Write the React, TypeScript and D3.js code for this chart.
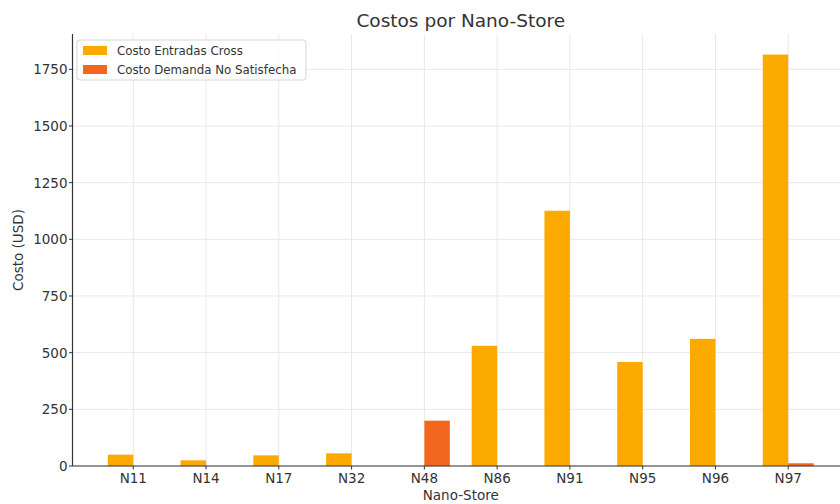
import React from "react";
import * as d3 from "d3";

// Nano-store codes along the x axis
const stores: string[] = ["N11", "N14", "N17", "N32", "N48", "N86", "N91", "N95", "N96", "N97"];
// Cross-dock entry cost per store (USD)
const crossCost: number[] = [50, 25, 47, 56, 0, 530, 1126, 459, 561, 1815];
// Unmet-demand cost per store (USD)
const unmetCost: number[] = [0, 0, 0, 0, 200, 0, 0, 0, 0, 12];
// Y axis ticks
const yTicks: number[] = [0, 250, 500, 750, 1000, 1250, 1500, 1750];

const seriesNames = ["Costo Entradas Cross", "Costo Demanda No Satisfecha"];
const seriesColors = ["#FDAA00", "#F2661F"];

const W = 840;
const H = 504;
const FONT = "'DejaVu Sans', sans-serif";

export default function App() {
  const left = 72.5;
  const right = 849;
  const top = 34;
  const bottom = 466;
  const barW = 0.35;

  const x = d3.scaleLinear().domain([-0.835, 9.835]).range([left, right]);
  const yMax = d3.max([...crossCost, ...unmetCost]) as number;
  const y = d3.scaleLinear().domain([0, yMax * 1.05]).range([bottom, top]);

  const series = [crossCost, unmetCost];

  return (
    <svg
      width={W}
      height={H}
      style={{ position: "absolute", left: 0, top: 0, background: "#fff" }}
      fontFamily={FONT}
    >
      <rect width={W} height={H} fill="#fff" />
      {/* grid */}
      <g stroke="#e8e8e8" strokeWidth={1}>
        {yTicks.map((t) => (
          <line key={"gy" + t} x1={left} x2={right} y1={y(t)} y2={y(t)} />
        ))}
        {stores.map((s, i) => (
          <line key={"gx" + s} x1={x(i)} x2={x(i)} y1={top} y2={bottom} />
        ))}
      </g>
      {/* bars */}
      {series.map((vals, si) => (
        <g key={"s" + si} fill={seriesColors[si]}>
          {vals.map((v, i) => {
            const x0 = si === 0 ? x(i - barW) : x(i);
            const x1 = si === 0 ? x(i) : x(i + barW);
            return (
              <rect key={i} x={x0} y={y(v)} width={x1 - x0} height={y(0) - y(v)} />
            );
          })}
        </g>
      ))}
      {/* axes */}
      <line x1={left} x2={left} y1={top} y2={bottom} stroke="#333" strokeWidth={1.2} />
      <line x1={left} x2={right} y1={bottom} y2={bottom} stroke="#333" strokeWidth={1.2} />
      {yTicks.map((t) => (
        <g key={"ty" + t}>
          <line x1={left - 3.5} x2={left} y1={y(t)} y2={y(t)} stroke="#333" strokeWidth={1} />
          <text
            x={left - 5}
            y={y(t)}
            textAnchor="end"
            dominantBaseline="central"
            fontSize={13.5}
            fill="#333"
          >
            {t}
          </text>
        </g>
      ))}
      {stores.map((s, i) => (
        <g key={"tx" + s}>
          <line x1={x(i)} x2={x(i)} y1={bottom} y2={bottom + 3.5} stroke="#333" strokeWidth={1} />
          <text x={x(i)} y={bottom + 17} textAnchor="middle" fontSize={13.5} fill="#333">
            {s}
          </text>
        </g>
      ))}
      {/* axis labels and title */}
      <text x={(left + right) / 2} y={500} textAnchor="middle" fontSize={13.5} fill="#333">
        Nano-Store
      </text>
      <text
        transform={`translate(23, ${(top + bottom) / 2}) rotate(-90)`}
        textAnchor="middle"
        fontSize={13.5}
        fill="#333"
      >
        Costo (USD)
      </text>
      <text x={(left + right) / 2} y={27} textAnchor="middle" fontSize={18.5} fill="#333">
        Costos por Nano-Store
      </text>
      {/* legend */}
      <g>
        <rect x={77} y={40} width={229} height={40} rx={3} fill="#fff" fillOpacity={0.85} stroke="#d6d6d6" />
        {seriesNames.map((n, i) => (
          <g key={n} transform={`translate(0, ${50.5 + i * 19})`}>
            <rect x={83} y={-4.5} width={24} height={9} fill={seriesColors[i]} />
            <text x={117} y={0} dominantBaseline="central" fontSize={11.8} fill="#333">
              {n}
            </text>
          </g>
        ))}
      </g>
    </svg>
  );
}
